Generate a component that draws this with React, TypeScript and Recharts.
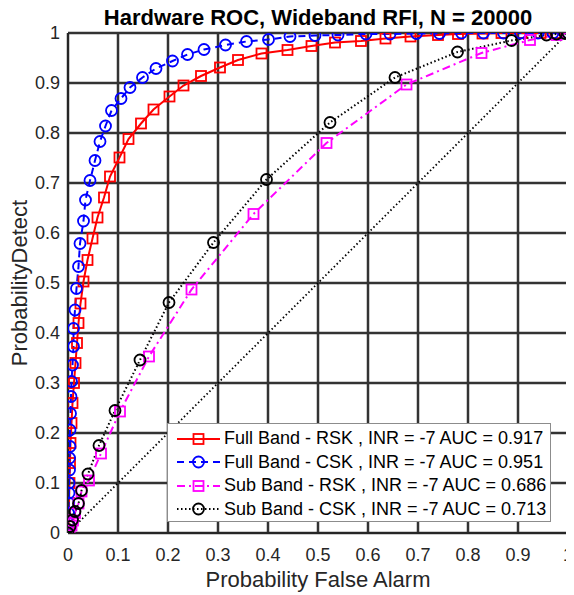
import React from 'react';
import { LineChart, Line, XAxis, YAxis, CartesianGrid, Legend } from 'recharts';

const axisTicks = [0, 0.1, 0.2, 0.3, 0.4, 0.5, 0.6, 0.7, 0.8, 0.9, 1];
const tickLabels = ['0', '0.1', '0.2', '0.3', '0.4', '0.5', '0.6', '0.7', '0.8', '0.9', '1'];

// Full Band - RSK
const fullRskFa = [0, 0.001, 0.002, 0.003, 0.004, 0.005, 0.007, 0.009, 0.012, 0.015, 0.018, 0.021, 0.025, 0.031, 0.039, 0.049, 0.059, 0.072, 0.084, 0.103, 0.121, 0.146, 0.171, 0.203, 0.231, 0.266, 0.304, 0.34, 0.387, 0.439, 0.487, 0.534, 0.586, 0.635, 0.685, 0.74, 0.78, 0.829, 0.867, 0.907, 0.945, 0.975, 1];
const fullRskPd = [0, 0.02, 0.06, 0.1, 0.14, 0.18, 0.22, 0.26, 0.3, 0.34, 0.38, 0.42, 0.459, 0.503, 0.546, 0.589, 0.631, 0.671, 0.713, 0.751, 0.788, 0.819, 0.847, 0.873, 0.895, 0.914, 0.931, 0.946, 0.959, 0.966, 0.974, 0.981, 0.984, 0.989, 0.993, 0.996, 0.998, 0.999, 1, 1, 1, 1, 1];

// Full Band - CSK
const fullCskFa = [0, 0.0005, 0.001, 0.0015, 0.002, 0.002, 0.003, 0.003, 0.004, 0.004, 0.005, 0.006, 0.007, 0.009, 0.011, 0.011, 0.014, 0.017, 0.021, 0.024, 0.031, 0.035, 0.044, 0.054, 0.064, 0.075, 0.087, 0.106, 0.124, 0.149, 0.176, 0.209, 0.239, 0.272, 0.315, 0.357, 0.401, 0.444, 0.494, 0.54, 0.596, 0.644, 0.697, 0.743, 0.787, 0.831, 0.871, 0.905, 0.94, 0.97, 1];
const fullCskPd = [0, 0.02, 0.04, 0.06, 0.08, 0.1, 0.126, 0.15, 0.173, 0.206, 0.239, 0.273, 0.303, 0.336, 0.373, 0.409, 0.446, 0.489, 0.533, 0.579, 0.624, 0.666, 0.705, 0.745, 0.783, 0.814, 0.845, 0.869, 0.891, 0.911, 0.929, 0.944, 0.957, 0.967, 0.976, 0.983, 0.987, 0.993, 0.995, 0.996, 0.998, 0.998, 0.999, 0.999, 1, 1, 1, 1, 1, 1, 1];

// Sub Band - RSK
const subRskFa = [0, 0.003, 0.007, 0.01, 0.014, 0.021, 0.027, 0.042, 0.066, 0.104, 0.162, 0.247, 0.371, 0.517, 0.677, 0.827, 0.924, 0.977, 1];
const subRskPd = [0, 0.005, 0.015, 0.025, 0.04, 0.059, 0.083, 0.105, 0.159, 0.243, 0.353, 0.487, 0.638, 0.78, 0.897, 0.96, 0.986, 0.996, 1];

// Sub Band - CSK
const subCskFa = [0, 0.004, 0.009, 0.014, 0.021, 0.027, 0.04, 0.062, 0.094, 0.144, 0.202, 0.291, 0.397, 0.524, 0.654, 0.779, 0.887, 0.957, 0.977, 0.994, 1];
const subCskPd = [0, 0.013, 0.026, 0.043, 0.059, 0.085, 0.118, 0.175, 0.245, 0.346, 0.461, 0.581, 0.707, 0.821, 0.911, 0.962, 0.985, 0.996, 0.998, 0.999, 1];

// chance line
const chanceFa = [0, 1];
const chancePd = [0, 1];

const seriesNames = [
  'Full Band - RSK , INR = -7 AUC = 0.917',
  'Full Band - CSK , INR = -7 AUC = 0.951',
  'Sub Band - RSK , INR = -7 AUC = 0.686',
  'Sub Band - CSK , INR = -7 AUC = 0.713',
];

const FONT = '"Liberation Sans", Arial, Helvetica, sans-serif';

const toPoints = (fa: number[], pd: number[]) => fa.map((x, i) => ({ fa: x, pd: pd[i] }));

const SERIES = [
  { key: 'fullRsk', name: seriesNames[0], data: toPoints(fullRskFa, fullRskPd), color: '#ff0000', dash: undefined, marker: 'square' },
  { key: 'fullCsk', name: seriesNames[1], data: toPoints(fullCskFa, fullCskPd), color: '#0000ff', dash: '7 5', marker: 'circle' },
  { key: 'subRsk', name: seriesNames[2], data: toPoints(subRskFa, subRskPd), color: '#ff00ff', dash: '8 4 2 4', marker: 'square' },
  { key: 'subCsk', name: seriesNames[3], data: toPoints(subCskFa, subCskPd), color: '#000000', dash: '1.5 2.5', marker: 'circle' },
];

const Marker = ({ marker, color, cx, cy }: { marker: string; color: string; cx: number; cy: number }) =>
  marker === 'square' ? (
    <rect x={cx - 5} y={cy - 5} width={10} height={10} fill="none" stroke={color} strokeWidth={1.8} />
  ) : (
    <circle cx={cx} cy={cy} r={5.5} fill="none" stroke={color} strokeWidth={1.8} />
  );

const makeDot = (marker: string, color: string) => (props: any) => {
  const { cx, cy, index } = props;
  if (cx == null || cy == null) return <g key={`e-${index}`} />;
  return (
    <g key={`m-${index}`}>
      <Marker marker={marker} color={color} cx={cx} cy={cy} />
    </g>
  );
};

const renderLegend = () => (
  <div
    style={{
      width: 384,
      height: 99,
      boxSizing: 'border-box',
      background: '#fff',
      border: '1px solid #8c8c8c',
      paddingTop: 3,
      fontFamily: FONT,
      fontSize: 18,
      color: '#000',
    }}
  >
    {SERIES.map((s) => (
      <div key={s.key} style={{ display: 'flex', alignItems: 'center', height: 23.5 }}>
        <svg width={52} height={20} style={{ flex: 'none' }}>
          <line x1={9} y1={10} x2={52} y2={10} stroke={s.color} strokeWidth={2} strokeDasharray={s.dash} />
          <Marker marker={s.marker} color={s.color} cx={30.5} cy={10} />
        </svg>
        <span style={{ marginLeft: 4, whiteSpace: 'nowrap' }}>{s.name}</span>
      </div>
    ))}
  </div>
);

const xLabel = () => (
  <text x={310} y={579} textAnchor="middle" fontSize={22} fontFamily={FONT} fill="#262626">
    Probability False Alarm
  </text>
);

const yLabel = () => (
  <text
    x={11}
    y={275}
    transform="rotate(-90 11 275)"
    textAnchor="middle"
    dominantBaseline="central"
    fontSize={22}
    fontFamily={FONT}
    fill="#262626"
  >
    ProbabilityDetect
  </text>
);

export default function App() {
  const tickStyle = { fontSize: 18, fill: '#262626', fontFamily: FONT };
  return (
    <div style={{ position: 'relative', width: 566, height: 587, background: '#fff' }}>
      <div
        style={{
          position: 'absolute',
          left: 60,
          top: -1,
          width: 500,
          textAlign: 'center',
          fontFamily: FONT,
          fontWeight: 'bold',
          fontSize: 22,
          lineHeight: '22px',
          color: '#000',
          whiteSpace: 'nowrap',
          zIndex: 2,
        }}
      >
        Hardware ROC, Wideband RFI, N = 20000
      </div>
      <LineChart width={566} height={587} margin={{ top: 25, right: 6, bottom: 22, left: 0 }}>
        <CartesianGrid stroke="#333333" strokeWidth={2.5} />
        <XAxis
          type="number"
          dataKey="fa"
          domain={[0, 1]}
          ticks={axisTicks}
          tickFormatter={(v: number) => tickLabels[axisTicks.indexOf(v)] ?? String(v)}
          allowDataOverflow
          interval={0}
          height={40}
          tick={tickStyle}
          tickLine={false}
          tickMargin={9}
          axisLine={{ stroke: '#262626', strokeWidth: 2 }}
          label={xLabel}
        />
        <YAxis
          type="number"
          dataKey="pd"
          domain={[0, 1]}
          ticks={axisTicks}
          tickFormatter={(v: number) => tickLabels[axisTicks.indexOf(v)] ?? String(v)}
          allowDataOverflow
          interval={0}
          width={60}
          tick={tickStyle}
          tickLine={false}
          tickMargin={2}
          axisLine={{ stroke: '#262626', strokeWidth: 2 }}
          label={yLabel}
        />
        {SERIES.map((s) => (
          <Line
            key={s.key}
            data={s.data}
            dataKey="pd"
            name={s.name}
            type="linear"
            stroke={s.color}
            strokeWidth={2}
            strokeDasharray={s.dash}
            dot={makeDot(s.marker, s.color)}
            activeDot={false}
            isAnimationActive={false}
          />
        ))}
        <Line
          data={toPoints(chanceFa, chancePd)}
          dataKey="pd"
          name="chance"
          type="linear"
          stroke="#000000"
          strokeWidth={1.8}
          strokeDasharray="1.5 2.5"
          dot={false}
          activeDot={false}
          legendType="none"
          isAnimationActive={false}
        />
        <Legend
          layout="vertical"
          align="center"
          verticalAlign="middle"
          content={renderLegend}
          wrapperStyle={{ left: 159, top: 415, width: 384, height: 99 }}
        />
      </LineChart>
    </div>
  );
}
